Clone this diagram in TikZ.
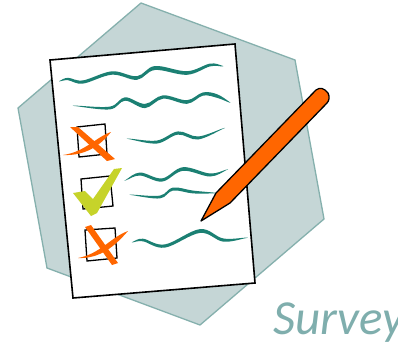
\documentclass[tikz,border=0pt]{standalone}
\usepackage{fontspec}
\setmainfont{Carlito}
\definecolor{hexfill}{HTML}{C5D6D6}
\definecolor{hexline}{HTML}{85B0AD}
\definecolor{wavecol}{HTML}{1B8073}
\definecolor{pencil}{HTML}{FF6600}
\definecolor{checkcol}{HTML}{C6D32A}
\definecolor{titlecol}{HTML}{7FAEAD}
\tikzset{
  hexshape/.style={fill=hexfill,draw=hexline,line width=1.3pt,line join=miter},
  paper/.style={fill=white,draw=black,line width=1.6pt,line join=miter},
  tickbox/.style={draw=black,line width=1.3pt,line join=miter},
  crossmark/.style={fill=pencil},
  wavemark/.style={fill=wavecol},
}
\newcommand\wavepath[1]{%
  \gdef\fwlist{}\gdef\bklist{}%
  \foreach \xx/\yy/\ww in {#1}{%
    \pgfmathsetmacro\ya{\yy-\ww}\pgfmathsetmacro\yb{\yy+\ww}%
    \xdef\fwlist{\fwlist (\xx,\ya)}\xdef\bklist{(\xx,\yb) \bklist}%
  }%
  \edef\tmpdraw{\noexpand\fill[wavemark] plot[smooth cycle,tension=0.6] coordinates {\fwlist \bklist};}%
  \tmpdraw
}
\begin{document}
\begin{tikzpicture}[x=1pt,y=-1pt]
\useasboundingbox (0,0) rectangle (398,345);
\fill[white] (0,0) rectangle (398,345);
\draw[hexshape] (141,3) -- (295,60) -- (324,219) -- (200,325) -- (47,268) -- (18,108) -- cycle;
\draw[paper] (50,60) -- (235,44) -- (255,283) -- (73,298) -- cycle;
\wavepath{60/81/0.3,68/79/1.2,83/82/1.6,112/73/1.7,137/78/1.8,155/68/2,187/73/1.8,210/65/1.4,222/66/0.4}
\wavepath{77/106/0.3,110/108/1.4,125/99/1.7,145/106/2.1,163/97/1.7,187/102/1.8,203/94/1.6,217/96/1.8,229/102/0.4}
\wavepath{130/139/0.3,157/142/1.5,178/133/1.6,198/138/1.5,222/129/0.3}
\wavepath{126/180/0.3,140/174/1.5,162/180/1.6,183/169/1.8,210/175/1.5,226/170/0.3}
\wavepath{133/195/0.3,160/197/1.4,173/189/1.5,193/192/1.4,215/193/0.3}
\wavepath{133/242/0.3,143/240/1.3,165/246/1.6,200/231/1.9,223/240/1.6,245/238/0.3}
\draw[tickbox] (77,127) -- (105,124) -- (107,154) -- (79,157) -- cycle;
\fill[crossmark] (70,127) -- (78,127) -- (115,159) -- (107,161) -- cycle;
\fill[crossmark] (63,155) .. controls (85,152) and (96,137) .. (111,132) .. controls (100,146) and (85,156) .. cycle;
\draw[tickbox] (81,179) -- (110,176) -- (113,206) -- (83,209) -- cycle;
\fill[checkcol] (73,193) -- (85,191) -- (93,199) -- (114,169) -- (122,168) -- (97,213) -- (91,216) -- cycle;
\draw[tickbox] (85,230) -- (115,228) -- (117,258) -- (87,261) -- cycle;
\fill[crossmark] (85,227) -- (91,225) -- (118,263) -- (112,265) -- cycle;
\fill[crossmark] (78,258) .. controls (100,254) and (111,237) .. (128,231) .. controls (115,246) and (100,259) .. cycle;
\draw[fill=pencil,draw=black,line width=1.3pt,line join=round]
  (201,221) -- (216,193) -- (316,90) .. controls (320,87) and (324,88) .. (328,93)
  .. controls (330,97) and (329,101) .. (327,103) -- (230,203) -- cycle;
\node[anchor=base west,inner sep=0pt,text=titlecol,font=\fontsize{49}{49}\selectfont\itshape] (title) at (273,334) {Survey};
\end{tikzpicture}
\end{document}
